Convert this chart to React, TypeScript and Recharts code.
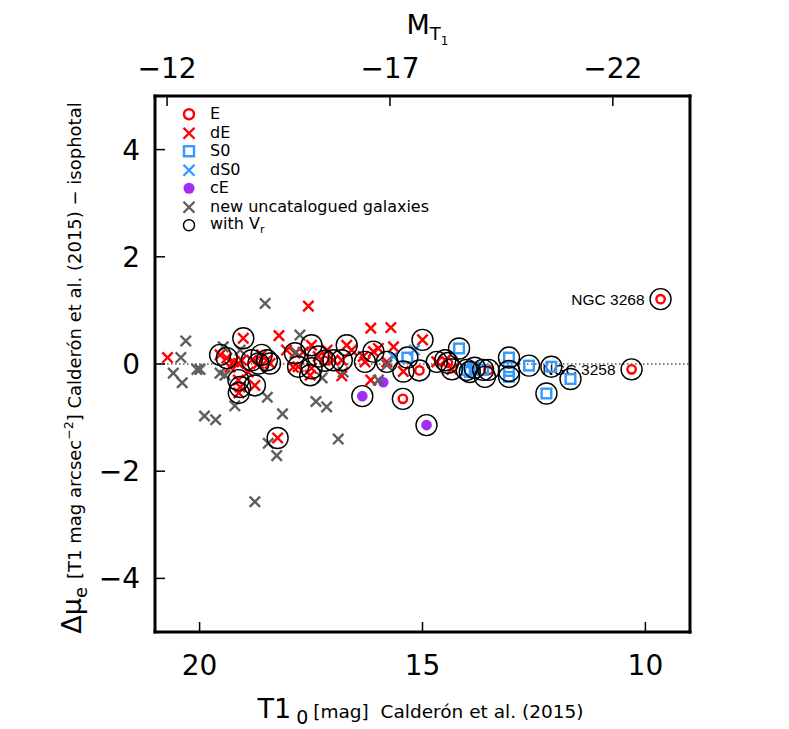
import React from 'react';
import { ScatterChart, Scatter, XAxis, YAxis, ReferenceLine, Legend } from 'recharts';

// ---------- axes ----------
const T1_DOMAIN: [number, number] = [9, 21];
const DIST_MOD = 32.73; // M_T1 = T1_0 - DIST_MOD
const MU_DOMAIN: [number, number] = [-5, 5];
const t1MajorTicks = [20, 15, 10];
const t1MinorTicks = [21, 20, 19, 18, 17, 16, 15, 14, 13, 12, 11, 10, 9];
const absMagMajorTicks = [-12, -17, -22];
const absMagMinorTicks = [-12, -13, -14, -15, -16, -17, -18, -19, -20, -21, -22, -23];
const muMajorTicks = [-4, -2, 0, 2, 4];
const muMinorTicks = [-5, -4, -3, -2, -1, 0, 1, 2, 3, 4, 5];

// ---------- data: [T1_0, delta mu_e] ----------
const ellipticals: [number, number][] = [
  [9.66, 1.21], [10.31, -0.1], [15.07, -0.12], [15.44, -0.65], [13.52, -0.11], [17.19, 0.06], [14.43, 0.02],
];
const ellipticalNames = ['NGC 3268', 'NGC 3258', '', '', '', '', ''];

const dwarfEllipticals: [number, number][] = [
  [20.72, 0.12], [17.56, 1.08], [19.02, 0.48], [18.22, 0.53], [18.05, 0.26], [19.54, 0.17], [19.39, 0.11],
  [19.24, 0.04], [19.13, 0.01], [19.06, 0.07], [19.13, -0.3], [19.09, -0.43], [19.12, -0.54], [18.76, -0.4],
  [18.83, 0.07], [18.68, 0.01], [18.61, 0.17], [18.49, 0.07], [18.42, 0.01], [18.25, -1.38], [17.86, 0.2],
  [17.49, 0.35], [17.49, -0.08], [17.34, 0.14], [17.79, -0.05], [17.0, 0.07], [17.52, -0.21], [17.9, -0.06],
  [16.16, 0.67], [15.71, 0.68], [15.0, 0.45], [15.43, -0.14], [16.16, -0.3], [16.81, -0.22], [16.7, 0.35],
  [16.59, 0.26], [16.81, 0.07], [16.29, 0.04], [16.1, 0.23], [15.8, 0.04], [15.99, 0.29], [15.65, 0.32],
  [16.33, 0.14], [14.68, 0.04], [14.49, 0.07], [14.34, -0.1], [17.14, 0.26], [17.68, 0.22], [18.91, -0.15],
  [19.32, -0.06],
];

const lenticulars: [number, number][] = [
  [14.18, 0.29], [15.34, 0.12], [13.06, 0.12], [13.06, -0.13], [13.06, -0.24], [12.61, -0.03], [12.11, -0.05],
  [11.68, -0.28], [12.22, -0.55], [14.01, -0.11], [13.94, -0.15], [13.83, -0.07], [13.64, -0.11],
];

const dwarfLenticulars: [number, number][] = [
  [15.65, 0.14], [15.18, 0.26],
];

const compactEllipticals: [number, number][] = [
  [16.35, -0.6], [15.88, -0.34], [14.91, -1.14],
];

const newGalaxies: [number, number][] = [
  [20.31, 0.43], [20.42, 0.12], [20.59, -0.17], [20.39, -0.35], [20.06, -0.1], [19.99, -0.1], [19.89, -0.97],
  [19.64, -1.04], [18.53, 1.13], [17.75, 0.54], [19.47, 0.32], [19.54, -0.17], [19.43, -0.21], [19.21, -0.78],
  [18.48, -0.62], [18.14, -0.93], [18.46, -1.48], [18.27, -1.71], [17.39, -0.7], [17.15, -0.8], [16.89, -1.4],
  [18.76, -2.57], [15.8, -0.02], [15.99, -0.3], [19.09, 0.26], [17.84, 0.22], [17.25, -0.26], [16.78, -0.15],
];

const withRadialVelocity: [number, number][] = [
  [19.02, 0.48], [19.54, 0.17], [19.39, 0.11], [19.13, -0.3], [19.09, -0.43], [19.12, -0.54], [18.76, -0.4],
  [18.83, 0.07], [18.68, 0.01], [18.61, 0.17], [18.49, 0.07], [18.42, 0.01], [18.25, -1.38], [17.86, 0.2],
  [17.49, 0.35], [17.49, -0.08], [17.34, 0.14], [17.79, -0.05], [17.52, -0.21], [17.0, 0.07], [16.7, 0.35],
  [16.81, 0.07], [16.29, 0.04], [16.1, 0.23], [15.8, 0.04], [15.0, 0.45], [15.43, -0.14], [14.68, 0.04],
  [14.49, 0.07], [14.34, -0.1],
  [9.66, 1.21], [10.31, -0.1], [15.07, -0.12], [15.44, -0.65], [13.52, -0.11], [17.19, 0.06], [14.43, 0.02],
  [14.18, 0.29], [15.34, 0.12], [13.06, 0.12], [13.06, -0.13], [13.06, -0.24], [12.61, -0.03], [12.11, -0.05],
  [11.68, -0.28], [12.22, -0.55], [14.01, -0.11], [13.94, -0.15], [13.83, -0.07], [13.64, -0.11],
  [16.35, -0.6], [14.91, -1.14], [13.6, -0.24],
];

const legendOrder = ['E', 'dE', 'S0', 'dS0', 'cE', 'new uncatalogued galaxies', 'with Vr'];

const toPoints = (arr: [number, number][], names?: string[]) =>
  arr.map(([x, y], i) => ({ x, y, name: names ? names[i] : '' }));

// ---------- styles ----------
const RED = '#ff0000';
const BLUE = '#3399ff';
const PURPLE = '#a02ef5';
const GRAY = '#5f5f5f';
const FONT = 'DejaVu Sans';
const ROW = 18.5;

const crossPath = (cx: number, cy: number, s: number) =>
  `M${cx - s},${cy - s}L${cx + s},${cy + s}M${cx - s},${cy + s}L${cx + s},${cy - s}`;

const makeCross = (color: string) => (p: any) => {
  if (p.cx == null || p.cy == null) return <g />;
  return <path d={crossPath(p.cx, p.cy, 5.2)} stroke={color} strokeWidth={2.4} fill="none" />;
};

const RedCircle = (p: any) => {
  if (p.cx == null || p.cy == null) return <g />;
  const name = p.payload?.name || '';
  return (
    <g>
      <circle cx={p.cx} cy={p.cy} r={4.2} stroke={RED} strokeWidth={2.4} fill="none" />
      {name ? (
        <text x={p.cx - 16} y={p.cy} dy="0.36em" textAnchor="end" fontFamily="Liberation Sans" fontSize={15.5} fill="#000">
          {name}
        </text>
      ) : null}
    </g>
  );
};

const BlueSquare = (p: any) => {
  if (p.cx == null || p.cy == null) return <g />;
  return <rect x={p.cx - 4.8} y={p.cy - 4.8} width={9.6} height={9.6} stroke={BLUE} strokeWidth={2.4} fill="none" />;
};

const PurpleDot = (p: any) => {
  if (p.cx == null || p.cy == null) return <g />;
  return <circle cx={p.cx} cy={p.cy} r={5.3} fill={PURPLE} stroke="none" />;
};

const VrRing = (p: any) => {
  if (p.cx == null || p.cy == null) return <g />;
  return <circle cx={p.cx} cy={p.cy} r={10.5} stroke="#000" strokeWidth={1.4} fill="none" />;
};

const legendIcon = (name: string) => {
  const c = 9, m = ROW / 2;
  switch (name) {
    case 'E':
      return <circle cx={c} cy={m} r={5} stroke={RED} strokeWidth={2.4} fill="none" />;
    case 'dE':
      return <path d={crossPath(c, m, 5.5)} stroke={RED} strokeWidth={2.4} fill="none" />;
    case 'S0':
      return <rect x={c - 5} y={m - 5} width={10} height={10} stroke={BLUE} strokeWidth={2.4} fill="none" />;
    case 'dS0':
      return <path d={crossPath(c, m, 5.5)} stroke={BLUE} strokeWidth={2.4} fill="none" />;
    case 'cE':
      return <circle cx={c} cy={m} r={5.5} fill={PURPLE} />;
    case 'new uncatalogued galaxies':
      return <path d={crossPath(c, m, 5.5)} stroke={GRAY} strokeWidth={2.4} fill="none" />;
    default:
      return <circle cx={c} cy={m} r={5.5} stroke="#000" strokeWidth={1.4} fill="none" />;
  }
};

const LegendContent = (props: any) => {
  const payload = ((props.payload || []) as any[])
    .slice()
    .sort((a, b) => legendOrder.indexOf(String(a.value)) - legendOrder.indexOf(String(b.value)));
  return (
    <div style={{ fontFamily: FONT, fontSize: 16, color: '#000' }}>
      {payload.map((entry: any) => {
        const name = String(entry.value);
        return (
          <div key={name} style={{ display: 'flex', alignItems: 'center', height: ROW, lineHeight: `${ROW}px`, whiteSpace: 'nowrap' }}>
            <svg width={18} height={ROW} style={{ display: 'block' }}>{legendIcon(name)}</svg>
            <span style={{ marginLeft: 12, lineHeight: `${ROW}px` }}>
              {name === 'with Vr' ? (
                <>with V<span style={{ fontSize: 11, position: 'relative', top: 4 }}>r</span></>
              ) : name}
            </span>
          </div>
        );
      })}
    </div>
  );
};

const BottomTitle = (props: any) => {
  const vb = props.viewBox || { x: 155, y: 632, width: 535 };
  return (
    <text x={vb.x + vb.width / 2 - 2} y={vb.y + 86} textAnchor="middle" fontFamily={FONT} fill="#000">
      <tspan fontSize={27}>T1</tspan>
      <tspan fontSize={19} dy={6} dx={5}>0</tspan>
      <tspan fontSize={18.5} dy={-6} dx={5}>{'[mag]\u00A0\u00A0Calderón et al. (2015)'}</tspan>
    </text>
  );
};

const TopTitle = (props: any) => {
  const vb = props.viewBox || { x: 155, y: 96, width: 535 };
  return (
    <text x={vb.x + vb.width / 2 + 5} y={vb.y - 62} textAnchor="middle" fontFamily={FONT} fill="#000">
      <tspan fontSize={27}>M</tspan>
      <tspan fontSize={18} dy={6}>T</tspan>
      <tspan fontSize={12} dy={5}>1</tspan>
    </text>
  );
};

const LeftTitle = (props: any) => {
  const vb = props.viewBox || { x: 155, y: 96, height: 536 };
  const cx = vb.x - 74;
  const cy = vb.y + vb.height / 2 + 4;
  return (
    <text x={cx} y={cy} textAnchor="middle" fontFamily={FONT} fill="#000" transform={`rotate(-90, ${cx}, ${cy})`}>
      <tspan fontSize={27}>Δμ</tspan>
      <tspan fontSize={18} dy={6}>e</tspan>
      <tspan fontSize={18} dy={-6} dx={8}>[T1 mag arcsec</tspan>
      <tspan fontSize={12.5} dy={-8}>−2</tspan>
      <tspan fontSize={18} dy={8}>] Calderón et al. (2015) − isophotal</tspan>
    </text>
  );
};

const minusFmt = (v: any) => String(v).replace('-', '\u2212');
const tickStyle = { fontSize: 28, fontFamily: FONT, fill: '#000' };
const tickLineStyle = { stroke: '#000', strokeWidth: 1.5 };
const frameStyle = { stroke: '#000', strokeWidth: 3, strokeLinecap: 'square' as const };
const TINY = 0.01;

export default function App() {
  return (
    <div style={{ position: 'absolute', left: 0, top: 0, width: 789, height: 729, background: '#fff' }}>
      <ScatterChart width={789} height={729} margin={{ top: 96, right: 99, bottom: 97, left: 155 }}>
        {/* bottom: minor then major */}
        <XAxis xAxisId="xbMinor" type="number" dataKey="x" orientation="bottom" domain={T1_DOMAIN} reversed allowDataOverflow
          ticks={t1MinorTicks} interval={0} tick={false} tickSize={-5} tickLine={tickLineStyle} axisLine={false} height={TINY} />
        <XAxis xAxisId="xb" type="number" dataKey="x" orientation="bottom" domain={T1_DOMAIN} reversed allowDataOverflow
          ticks={t1MajorTicks} interval={0} tick={tickStyle} tickSize={-10} tickMargin={33} tickLine={tickLineStyle}
          axisLine={frameStyle} height={TINY} label={<BottomTitle />} />
        {/* top: absolute magnitude */}
        <XAxis xAxisId="xtMinor" type="number" dataKey="m" orientation="top"
          domain={[T1_DOMAIN[0] - DIST_MOD, T1_DOMAIN[1] - DIST_MOD]} reversed allowDataOverflow
          ticks={absMagMinorTicks} interval={0} tick={false} tickSize={-5} tickLine={tickLineStyle} axisLine={false} height={TINY} />
        <XAxis xAxisId="xt" type="number" dataKey="m" orientation="top"
          domain={[T1_DOMAIN[0] - DIST_MOD, T1_DOMAIN[1] - DIST_MOD]} reversed allowDataOverflow
          ticks={absMagMajorTicks} interval={0} tick={tickStyle} tickFormatter={minusFmt} tickSize={-10} tickMargin={28}
          tickLine={tickLineStyle} axisLine={frameStyle} height={TINY} label={<TopTitle />} />
        {/* left */}
        <YAxis yAxisId="ylMinor" type="number" dataKey="y" orientation="left" domain={MU_DOMAIN} allowDataOverflow
          ticks={muMinorTicks} interval={0} tick={false} tickSize={-5} tickLine={tickLineStyle} axisLine={false} width={TINY} />
        <YAxis yAxisId="yl" type="number" dataKey="y" orientation="left" domain={MU_DOMAIN} allowDataOverflow
          ticks={muMajorTicks} interval={0} tick={tickStyle} tickFormatter={minusFmt} tickSize={-10} tickMargin={25}
          tickLine={tickLineStyle} axisLine={frameStyle} width={TINY} label={<LeftTitle />} />
        {/* right */}
        <YAxis yAxisId="yrMinor" type="number" dataKey="y" orientation="right" domain={MU_DOMAIN} allowDataOverflow
          ticks={muMinorTicks} interval={0} tick={false} tickSize={-5} tickLine={tickLineStyle} axisLine={false} width={TINY} />
        <YAxis yAxisId="yr" type="number" dataKey="y" orientation="right" domain={MU_DOMAIN} allowDataOverflow
          ticks={muMajorTicks} interval={0} tick={false} tickSize={-10} tickLine={tickLineStyle} axisLine={frameStyle} width={TINY} />

        <ReferenceLine xAxisId="xb" yAxisId="yl" y={0} stroke="#000" strokeWidth={1} strokeDasharray="1.5 2.5" />

        <Scatter name="E" xAxisId="xb" yAxisId="yl" data={toPoints(ellipticals, ellipticalNames)} shape={RedCircle} isAnimationActive={false} />
        <Scatter name="dE" xAxisId="xb" yAxisId="yl" data={toPoints(dwarfEllipticals)} shape={makeCross(RED)} isAnimationActive={false} />
        <Scatter name="S0" xAxisId="xb" yAxisId="yl" data={toPoints(lenticulars)} shape={BlueSquare} isAnimationActive={false} />
        <Scatter name="dS0" xAxisId="xb" yAxisId="yl" data={toPoints(dwarfLenticulars)} shape={makeCross(BLUE)} isAnimationActive={false} />
        <Scatter name="cE" xAxisId="xb" yAxisId="yl" data={toPoints(compactEllipticals)} shape={PurpleDot} isAnimationActive={false} />
        <Scatter name="new uncatalogued galaxies" xAxisId="xb" yAxisId="yl" data={toPoints(newGalaxies)} shape={makeCross(GRAY)} isAnimationActive={false} />
        <Scatter name="with Vr" xAxisId="xb" yAxisId="yl" data={toPoints(withRadialVelocity)} shape={VrRing} isAnimationActive={false} />

        <Legend layout="vertical" align="center" verticalAlign="middle" content={<LegendContent />}
          wrapperStyle={{ position: 'absolute', left: 180, top: 105, width: 'auto', height: 'auto' }} />
      </ScatterChart>
    </div>
  );
}
